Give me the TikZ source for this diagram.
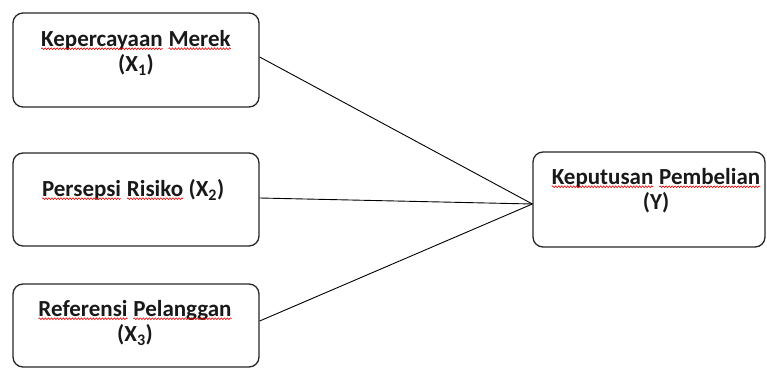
\documentclass[tikz,border=0pt]{standalone}
\usepackage{fontspec}
\setmainfont{Carlito}
\usetikzlibrary{decorations.pathmorphing}
% red wavy underline under one word, as a spell checker marks it
\newcommand\redwave[1]{\tikz[baseline=(w.base)]{%
  \node[inner sep=0pt, outer sep=0pt] (w) {#1};%
  \draw[red!90!black, line width=0.6pt, decorate,
        decoration={snake, amplitude=0.9pt, segment length=3pt}]
    ([yshift=-2.4pt]w.base west) -- ([yshift=-2.4pt]w.base east);}}
\begin{document}
\begin{tikzpicture}[x=1pt,y=-1pt,
  box/.style={draw=black!85, line width=1.3pt, rounded corners=10pt, inner sep=0pt},
  label/.style={font=\fontsize{23}{25}\selectfont\bfseries, text=black!90, align=center, inner sep=0pt, anchor=north},
  link/.style={draw=black, line width=0.9pt}]
\useasboundingbox (0,0) rectangle (767,372);
% variable boxes
\node[box, minimum width=246pt, minimum height=94pt] (b1) at (136,60) {};
\node[box, minimum width=246pt, minimum height=93pt] (b2) at (136,199.5) {};
\node[box, minimum width=246pt, minimum height=83pt] (b3) at (136,325.5) {};
\node[box, minimum width=232pt, minimum height=95pt] (y) at (649,199.5) {};
% box texts
\node[label] (t1) at (136,30) {\redwave{Kepercayaan} \redwave{Merek}\\(X\textsubscript{1})};
\node[label] (t2) at (133,179) {\redwave{Persepsi} \redwave{Risiko} (X\textsubscript{2})};
\node[label] (t3) at (135,300) {\redwave{Referensi} \redwave{Pelanggan}\\(X\textsubscript{3})};
\node[label] (ty) at (656,168) {\redwave{Keputusan} \redwave{Pembelian}\\(Y)};
% connectors meeting on the left side of the outcome box
\coordinate (j) at ([yshift=-4.5pt]y.west);
\draw[link] ([yshift=3pt]b1.east) -- (j);
\draw[link] ([yshift=1.5pt]b2.east) -- (j);
\draw[link] ([yshift=4.5pt]b3.east) -- (j);
\end{tikzpicture}
\end{document}
